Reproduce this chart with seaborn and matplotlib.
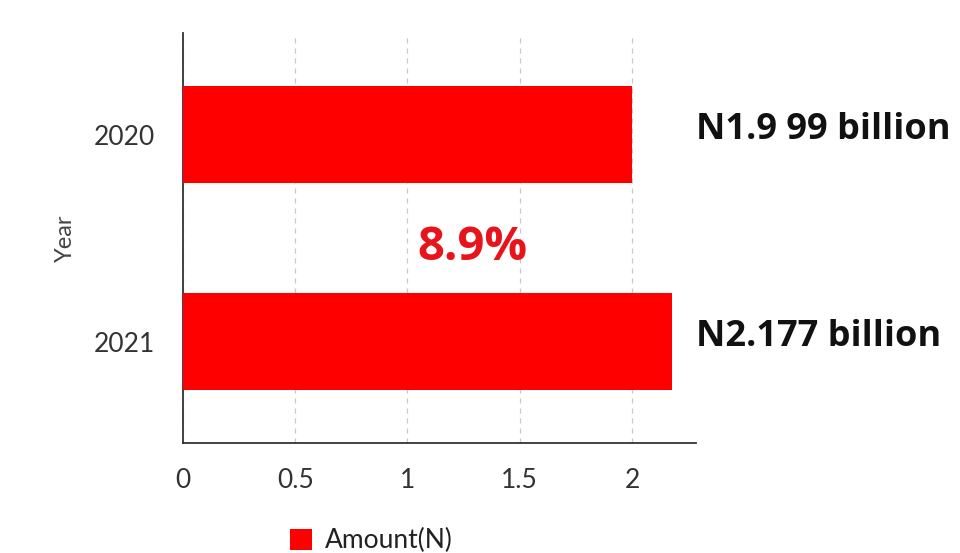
import matplotlib
matplotlib.use("Agg")
import matplotlib.pyplot as plt
import seaborn as sns
import pandas as pd
from matplotlib.patches import Patch

# data
years = ["2020", "2021"]
amounts = [1.999, 2.177]
value_labels = ["N1.9 99 billion", "N2.177 billion"]
x_ticks = [0, 0.5, 1, 1.5, 2]
x_tick_labels = ["0", "0.5", "1", "1.5", "2"]

df = pd.DataFrame({"Year": years, "Amount(N)": amounts})
growth = (amounts[1] - amounts[0]) / amounts[0] * 100

sns.set_theme(style="white")
plt.rcParams["font.family"] = ["Lato", "DejaVu Sans"]

fig = plt.figure(figsize=(9.6, 5.53), dpi=100)
ax = fig.add_axes([0.1906, 0.199, 0.5344, 0.741])

sns.barplot(data=df, y="Year", x="Amount(N)", orient="h", color="#ff0000",
            saturation=1, width=0.47, linewidth=0, ax=ax, zorder=3)

ax.set_xlim(0, 2.285)
ax.set_ylim(1.49, -0.49)
ax.set_xticks(x_ticks)
ax.set_xticklabels(x_tick_labels)
ax.tick_params(axis="x", length=0, pad=18, labelsize=19, labelcolor="#333333")
ax.tick_params(axis="y", length=0, pad=20, labelsize=19, labelcolor="#333333")
ax.set_xlabel("")
ax.set_ylabel("Year", fontsize=17, color="#444444", labelpad=13)

ax.grid(axis="x", linestyle=(0, (4, 4)), color="#c8c8c8", linewidth=0.9, zorder=0)
ax.set_axisbelow(True)
for s in ["top", "right"]:
    ax.spines[s].set_visible(False)
for s in ["left", "bottom"]:
    ax.spines[s].set_color("#333333")
    ax.spines[s].set_linewidth(1.3)

# value labels at the right of the plot area
for i, lab in enumerate(value_labels):
    ax.annotate(lab, xy=(1.0, i), xycoords=("axes fraction", "data"),
                xytext=(0, 3), textcoords="offset points",
                ha="left", va="center", fontsize=26, fontweight="bold",
                color="#111111", family=["Open Sans", "DejaVu Sans"])

ax.text(1.29, 0.545, f"{growth:.1f}%", ha="center", va="center",
        fontsize=34, fontweight="bold", color="#e8141c",
        family=["Open Sans", "DejaVu Sans"])

handles = [Patch(facecolor="#ff0000", edgecolor="none", label="Amount(N)")]
fig.legend(handles=handles, loc="center left", bbox_to_anchor=(0.302, 0.022),
           frameon=False, fontsize=19, handlelength=0.83, handleheight=0.83,
           handletextpad=0.5, labelcolor="#222222", borderpad=0, borderaxespad=0)

fig.savefig("out.png", dpi=100)
